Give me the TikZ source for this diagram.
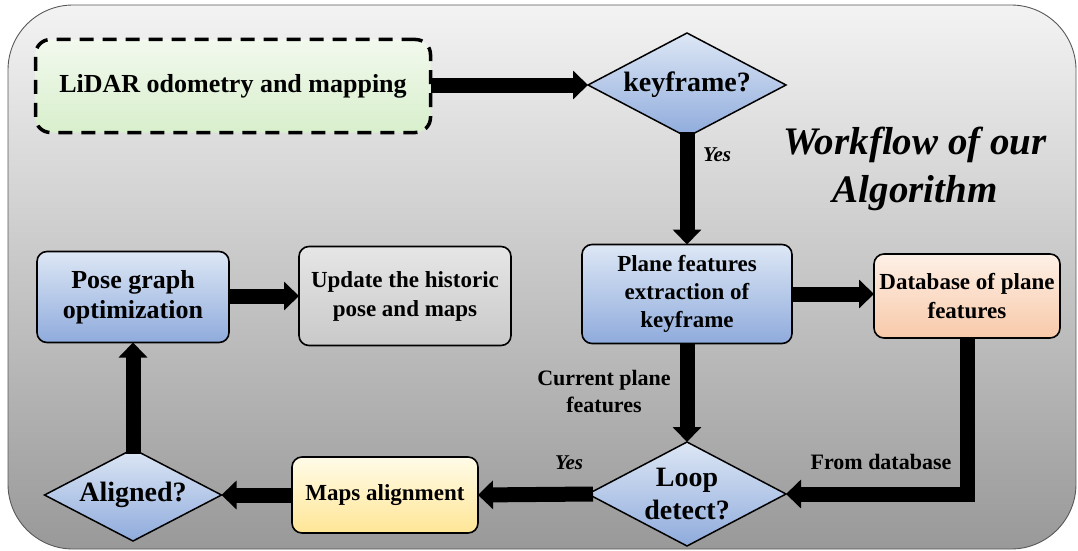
\documentclass[tikz,border=0pt]{standalone}
\usepackage{fontspec}
\setmainfont{Liberation Serif}
\usetikzlibrary{shapes.geometric,arrows.meta}

\definecolor{bgtop}{HTML}{F3F3F3}
\definecolor{bgbot}{HTML}{999999}
\definecolor{bluetop}{HTML}{DDE7F5}
\definecolor{bluebot}{HTML}{8FABDC}
\definecolor{greentop}{HTML}{F2F9EE}
\definecolor{greenbot}{HTML}{D8EFCC}
\definecolor{orangetop}{HTML}{FDF0E6}
\definecolor{orangebot}{HTML}{F8C9A9}
\definecolor{yellowtop}{HTML}{FFFBE8}
\definecolor{yellowbot}{HTML}{FFE696}
\definecolor{graytop}{HTML}{E6E6E6}
\definecolor{graybot}{HTML}{C9C9C9}

\tikzset{
  box/.style={draw=black, line width=1.6pt, rounded corners=10pt, align=center,
    inner sep=0pt, outer sep=0pt, font=\fontsize{23}{29}\selectfont\bfseries},
  bluebox/.style={box, top color=bluetop, bottom color=bluebot},
  decision/.style={diamond, draw=black, line width=1.5pt, aspect=1.9, inner sep=0pt,
    outer sep=0pt, align=center, top color=bluetop, bottom color=bluebot,
    font=\fontsize{28}{33}\selectfont\bfseries},
  flow/.style={line width=15pt, -{Triangle[width=28pt,length=15pt]}},
  lbl/.style={align=center, font=\fontsize{22}{27}\selectfont\bfseries},
  yeslbl/.style={font=\fontsize{21}{24}\selectfont\bfseries\itshape},
}

\begin{document}
\begin{tikzpicture}[x=1pt, y=-1pt]
\useasboundingbox (0,0) rectangle (1078,551);
% frame
\path[draw=black!65, line width=0.9pt, rounded corners=65pt, top color=bgtop, bottom color=bgbot]
  (8,5) rectangle (1076,549);

% nodes
\node[box, dashed, line width=3.5pt, dash pattern=on 14pt off 9pt, rounded corners=15pt,
  top color=greentop, bottom color=greenbot, minimum width=395pt, minimum height=93pt,
  font=\fontsize{26}{30}\selectfont\bfseries] (lidar) at (233,86) {LiDAR odometry and mapping};
\node[decision, minimum width=198pt, minimum height=104pt] (kf) at (687,85) {keyframe?};
\node[bluebox, minimum width=210pt, minimum height=99pt, font=\fontsize{23}{28}\selectfont\bfseries]
  (plane) at (687,294) {Plane features\\extraction of\\keyframe};
\node[box, top color=orangetop, bottom color=orangebot, minimum width=186pt, minimum height=84pt]
  (db) at (967,296) {Database of plane\\features};
\node[decision, minimum width=198pt, minimum height=104pt] (loop) at (687,494) {Loop\\detect?};
\node[box, top color=yellowtop, bottom color=yellowbot, minimum width=186pt, minimum height=76pt]
  (maps) at (385,495) {Maps alignment};
\node[decision, minimum width=177pt, minimum height=92pt] (aligned) at (133,495) {Aligned?};
\node[bluebox, minimum width=192pt, minimum height=91pt, font=\fontsize{26}{30}\selectfont\bfseries]
  (pose) at (133,297) {Pose graph\\optimization};
\node[box, top color=graytop, bottom color=graybot, minimum width=212pt, minimum height=99pt]
  (update) at (405,296) {Update the historic\\pose and maps};

\node[font=\fontsize{39}{48}\selectfont\bfseries\itshape, align=center] (title) at (915,169)
  {Workflow of our\\Algorithm};

% labels
\node[yeslbl] (yes1) at (717,155) {Yes};
\node[yeslbl] (yes2) at (569,463) {Yes};
\node[lbl] (cur) at (604,391) {Current plane\\features};
\node[lbl] (from) at (881,462) {From database};

% connectors
\draw[flow] (lidar.east |- kf.west) -- (kf.west);
\draw[flow] ([yshift=5pt]kf.south) -- (plane.north);
\draw[flow] (plane.east) -- (plane.east -| db.west);
\draw[flow] (plane.south) -- (loop.north);
\draw[flow] (db.south) |- (loop.east);
\draw[flow] ([xshift=5pt]loop.west) -- (maps.east);
\draw[flow] (maps.west) -- (aligned.east);
\draw[flow] ([yshift=-5pt]aligned.north) -- (pose.south);
\draw[flow] (pose.east |- update.west) -- (update.west);
\end{tikzpicture}
\end{document}
